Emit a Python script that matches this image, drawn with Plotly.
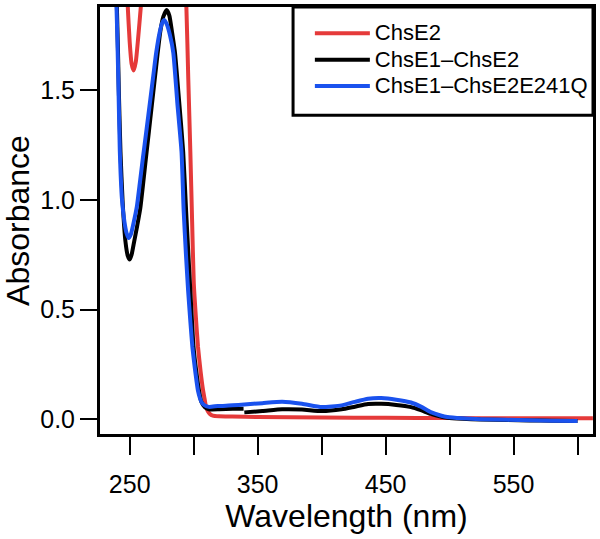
import plotly.graph_objects as go

# ---- data ----
red_name = "ChsE2"
red_wl = [240, 244, 246.5, 248.5, 250.0, 251.5, 253.1, 254.8, 256.5, 258.7, 262, 268, 275, 282,
          289, 292.5, 294.3, 295.8, 297.4, 298.8, 300.1, 301.8, 303.4, 305.4, 307.3, 308.5, 309.6,
          311, 312.5, 315, 320, 330, 350, 400, 450, 500, 550, 612]
red_abs = [2.9, 2.5, 2.15, 1.88, 1.72, 1.62, 1.59, 1.63, 1.73, 1.88, 2.15, 2.5, 2.7, 2.65,
           2.35, 2.1, 1.88, 1.55, 1.22, 0.9, 0.62, 0.46, 0.33, 0.22, 0.135, 0.095, 0.06,
           0.038, 0.026, 0.017, 0.014, 0.013, 0.011, 0.009, 0.007, 0.006, 0.005, 0.005]

black_name = "ChsE1\u2013ChsE2"
black_wl = [236, 240.0, 241.5, 242.8, 244.5, 246.7, 248.5, 250.0, 251.5, 253.5, 255.8, 258.3,
            262.2, 265.0, 267.3, 269.5, 271.9, 274.0, 276.3, 278.9, 281.0, 283.2, 285.4, 288.7,
            291.8, 294.1, 295.8, 297.4, 299.9, 302.0, 304.2, 306.0, 308.8, 311.9, 320, 330.5,
            339.0, None, 339.6, 353.7, 369.2, 384.7, 400.2, 415.6, 426, 436.3, 446.6, 458.3, 469.9,
            477.6, 485.3, 493.0, 498.2, 510, 524, 545, 562.7, 580, 600]
black_abs = [2.3, 1.88, 1.5, 1.22, 0.99, 0.81, 0.745, 0.728, 0.75, 0.81, 0.88, 0.962,
             1.165, 1.311, 1.431, 1.546, 1.671, 1.77, 1.835, 1.865, 1.84, 1.76, 1.671, 1.445,
             1.22, 0.95, 0.76, 0.586, 0.33, 0.22, 0.13, 0.08, 0.055, 0.046, 0.046, 0.048,
             0.049, None, 0.032, 0.038, 0.046, 0.045, 0.038, 0.046, 0.058, 0.07, 0.071, 0.066, 0.056,
             0.042, 0.025, 0.013, 0.008, 0.003, -0.001, -0.003, -0.005, -0.006, -0.007]

blue_name = "ChsE1\u2013ChsE2E241Q"
blue_wl = [236, 239.7, 241.1, 242.3, 244.0, 245.9, 247.5, 249.2, 251.0, 253.2, 255.6, 258.0,
           260.3, 263.0, 266.0, 268.5, 270.7, 273.5, 275.5, 277.1, 279.0, 281.5, 284.1, 287.2,
           290.5, 292.2, 294.0, 295.7, 297.5, 299.0, 301.0, 303.4, 305.0, 306.5, 308.6, 311.9,
           318.9, 330.5, 339.5, 353.7, 369.2, 384.7, 400.2, 415.6, 426, 436.3, 446.6, 458.3,
           469.9, 477.6, 485.3, 493.0, 498.2, 510, 524, 545, 562.7, 580, 600]
blue_abs = [2.3, 1.88, 1.55, 1.22, 1.0, 0.90, 0.85, 0.826, 0.845, 0.9, 0.97, 1.081,
            1.19, 1.313, 1.452, 1.568, 1.67, 1.765, 1.808, 1.82, 1.80, 1.75, 1.67, 1.445,
            1.22, 0.95, 0.75, 0.585, 0.44, 0.33, 0.23, 0.13, 0.095, 0.075, 0.064, 0.057,
            0.061, 0.064, 0.068, 0.074, 0.08, 0.071, 0.056, 0.064, 0.08, 0.094, 0.097, 0.09,
            0.077, 0.058, 0.033, 0.018, 0.011, 0.005, 0.001, -0.002, -0.004, -0.006, -0.007]

x_tickvals = [250, 300, 350, 400, 450, 500, 550, 600]
x_ticktext = ["250", "", "350", "", "450", "", "550", ""]
y_tickvals = [0.0, 0.5, 1.0, 1.5]
y_ticktext = ["0.0", "0.5", "1.0", "1.5"]

RED = "#E53A3A"
BLACK = "#000000"
BLUE = "#1A52EE"
FONT = "Liberation Sans, Arial, Helvetica, sans-serif"

fig = go.Figure()
for wl, ab, name, col in [(red_wl, red_abs, red_name, RED),
                          (black_wl, black_abs, black_name, BLACK),
                          (blue_wl, blue_abs, blue_name, BLUE)]:
    fig.add_trace(go.Scatter(x=wl, y=ab, mode="lines", connectgaps=False,
                             name='<span style="font-size:22px">' + name + '</span>',
                             line=dict(color=col, width=4, shape="spline", smoothing=0.5)))

# legend frame
fig.add_shape(type="rect", xref="paper", yref="paper", x0=0.3916, x1=1.0, y0=0.7465, y1=1.0,
              line=dict(color="black", width=3), fillcolor="white", layer="below")

fig.update_layout(
    width=600, height=539,
    margin=dict(l=96, r=6, t=4, b=105),
    paper_bgcolor="white", plot_bgcolor="white",
    font=dict(family=FONT, color="black", size=25),
    showlegend=True,
    legend=dict(x=0.4257, y=0.981, xanchor="left", yanchor="top",
                bgcolor="rgba(0,0,0,0)", borderwidth=0,
                font=dict(family=FONT, size=18, color="black"),
                itemwidth=55, tracegroupgap=0),
    xaxis=dict(range=[226.8, 612.1], tickvals=x_tickvals, ticktext=x_ticktext,
               ticks="outside", ticklen=18, tickwidth=2, tickcolor="black",
               showline=True, linewidth=3, linecolor="black", mirror=True,
               showgrid=False, zeroline=False, ticklabelstandoff=8,
               tickfont=dict(size=25),
               title=dict(text="Wavelength (nm)", font=dict(size=32), standoff=8)),
    yaxis=dict(range=[-0.0665, 1.879], tickvals=y_tickvals, ticktext=y_ticktext,
               ticks="outside", ticklen=17, tickwidth=2, tickcolor="black",
               showline=True, linewidth=3, linecolor="black", mirror=True,
               showgrid=False, zeroline=False,
               tickfont=dict(size=25),
               title=dict(text="Absorbance", font=dict(size=32), standoff=14)),
)

fig.write_html("out.html", config={"displayModeBar": False},
               post_script="document.body.style.margin='0';document.body.style.overflow='hidden';")
